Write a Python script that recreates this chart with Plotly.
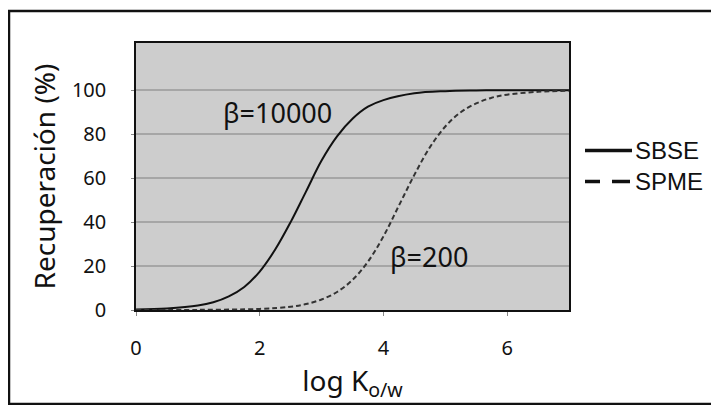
import plotly.graph_objects as go

# Data
sbse_x = [0, 0.5, 1, 1.25, 1.5, 1.75, 2, 2.25, 2.5, 2.75, 3, 3.25, 3.5, 3.75, 4, 4.5, 5, 5.5, 6, 7]
sbse_y = [0.2, 0.7, 2.0, 3.5, 6.2, 10.5, 17.5, 27.5, 40, 54, 68, 79, 87, 92.5, 95.5, 98.6, 99.6, 99.9, 100, 100]

spme_x = [0, 1, 2, 2.5, 2.75, 3, 3.25, 3.5, 3.75, 4, 4.25, 4.5, 4.75, 5, 5.25, 5.5, 5.75, 6, 6.5, 7]
spme_y = [0, 0.05, 0.5, 1.5, 2.7, 4.8, 8.2, 13.7, 22, 33.5, 47.5, 61.5, 74, 83.5, 90, 94, 96.6, 98, 99.3, 99.8]

x_ticks = [0, 2, 4, 6]
y_ticks = [0, 20, 40, 60, 80, 100]

series_names = ["SBSE", "SPME"]
labels = ["\u03b2=10000", "\u03b2=200"]
label_x = [2.29, 4.73]
label_y = [90.1, 24.4]

FONT = "Noto Sans"
NBSP = "\u00a0"

# The page body adds an 8px offset; layout is sized so the final picture lines up.
W, H = 711, 397
ML, MT = 128, 35
PW, PH = 433, 267


def px(xp):
    return (xp - 136) / PW


def py(yp):
    return (310 - yp) / PH


fig = go.Figure()
fig.add_trace(go.Scatter(x=sbse_x, y=sbse_y, mode="lines", name=series_names[0], showlegend=False,
                         line=dict(color="#111111", width=2, shape="spline", smoothing=1)))
fig.add_trace(go.Scatter(x=spme_x, y=spme_y, mode="lines", name=series_names[1], showlegend=False,
                         line=dict(color="#333333", width=2, dash="5px,3px", shape="spline", smoothing=1)))

for t, xx, yy in zip(labels, label_x, label_y):
    fig.add_annotation(x=xx, y=yy, text=t, showarrow=False,
                       font=dict(family=FONT, size=27, color="#111111"))

# manual legend (long sample lines as in the reference)
leg_y = [150.5, 181.5]
leg_dash = ["solid", "15px,12px,18px,10px"]
for name, yy, dsh in zip(series_names, leg_y, leg_dash):
    fig.add_shape(type="line", xref="paper", yref="paper",
                  x0=px(585), x1=px(632), y0=py(yy), y1=py(yy),
                  line=dict(color="#111111", width=3.5, dash=dsh))
    fig.add_annotation(xref="paper", yref="paper", x=px(633), y=py(yy),
                       xanchor="left", yanchor="middle", text=name, showarrow=False,
                       font=dict(family="Liberation Sans, Arial", size=24, color="#111111"))

# outer frame around the whole figure
fig.add_shape(type="rect", xref="paper", yref="paper",
              x0=px(9), x1=px(717), y0=py(404), y1=py(11),
              line=dict(color="#111111", width=2.5), layer="below")

fig.update_layout(
    width=W, height=H,
    margin=dict(l=ML, r=W - ML - PW, t=MT, b=H - MT - PH),
    paper_bgcolor="white",
    plot_bgcolor="#cdcdcd",
    showlegend=False,
    xaxis=dict(range=[0, 7], tickvals=x_ticks, showgrid=False, zeroline=False,
               automargin=False,
               showline=True, linecolor="#111111", linewidth=2, mirror=True,
               ticks="outside", ticklen=4, tickcolor="#888888",
               ticklabelstandoff=15,
               tickfont=dict(family=FONT, size=20, color="#111111"),
               title=dict(text="log K<sub>o/w</sub>", standoff=0,
                          font=dict(family=FONT, size=28, color="#111111"))),
    yaxis=dict(range=[0, 121.5], tickvals=y_ticks,
               ticktext=[f"{v}" + NBSP * 4 for v in y_ticks],
               showgrid=True,
               gridcolor="#a6a6a6", gridwidth=1.5, zeroline=False,
               automargin=False,
               showline=True, linecolor="#111111", linewidth=2, mirror=True,
               ticks="outside", ticklen=3, tickcolor="#888888",
               tickfont=dict(family=FONT, size=20, color="#111111"),
               title=dict(text="Recuperación (%)", standoff=8,
                          font=dict(family=FONT, size=28, color="#111111"))),
)

fig.write_html("out.html")
